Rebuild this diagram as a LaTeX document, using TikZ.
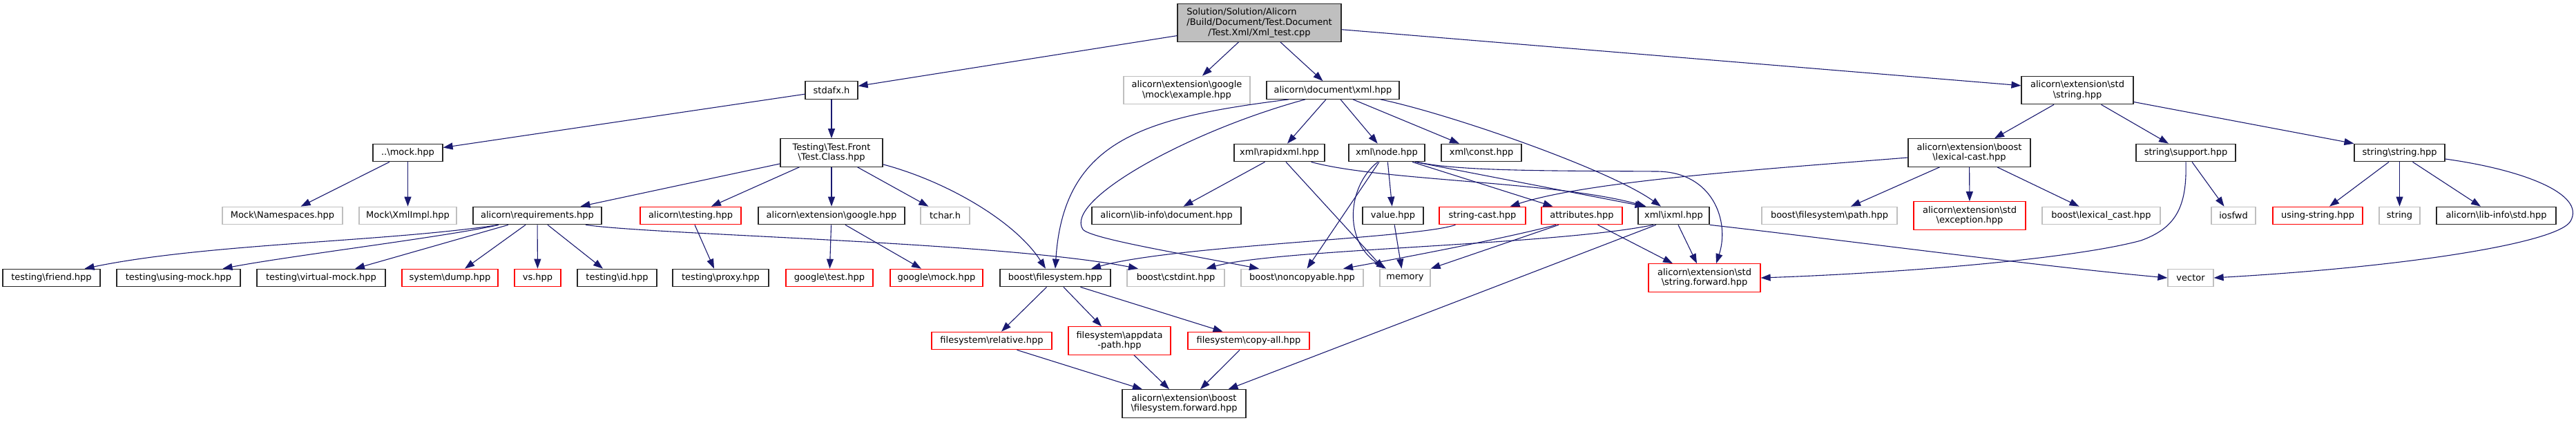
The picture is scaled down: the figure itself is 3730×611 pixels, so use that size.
\documentclass[tikz,border=0pt]{standalone}
\usepackage{fontspec}
\setmainfont{DejaVu Sans}
\usepackage{calc}
\usetikzlibrary{arrows.meta}
\definecolor{edgec}{HTML}{191970}
\definecolor{grayb}{HTML}{BFBFBF}
\definecolor{redb}{HTML}{FF0000}
\newcommand{\bsl}{\textbackslash}
\begin{document}
\begin{tikzpicture}[x=1pt,y=-1pt,
  box/.style={draw=black!85, line width=1.2pt, inner sep=0pt, minimum height=25.5pt, align=center,
    font=\fontsize{13pt}{14.8pt}\selectfont, text=black},
  two/.style={minimum height=40.5pt},
  redn/.style={draw=redb},
  grayn/.style={draw=grayb},
  e/.style={draw=edgec, line width=1.1pt, -{Triangle[length=14pt,width=10pt,fill=edgec]}}]
\useasboundingbox (0,0) rectangle (3730,611);
% row 1
\node[box, fill=grayb, minimum width=237pt, minimum height=54.5pt] (main) at (1823.5,33)
 {\makebox[\widthof{/Build/Document/Test.Document}][l]{Solution/Solution/Alicorn}\\/Build/Document/Test.Document\\/Test.Xml/Xml\_test.cpp};
% row 2
\node[box, minimum width=76pt] (stdafx) at (1204,130.5) {stdafx.h};
\node[box, grayn, two, minimum width=183pt] (example) at (1718.5,130.5) {alicorn\bsl extension\bsl google\\\bsl mock\bsl example.hpp};
\node[box, minimum width=192pt] (xmlhpp) at (1930,130.5) {alicorn\bsl document\bsl xml.hpp};
\node[box, two, minimum width=162pt] (stringhpp) at (3008,130.5) {alicorn\bsl extension\bsl std\\\bsl string.hpp};
% row 3
\node[box, minimum width=101pt] (mock) at (590.5,221) {..\bsl mock.hpp};
\node[box, two, minimum width=148pt] (testclass) at (1204,221) {Testing\bsl Test.Front\\\bsl Test.Class.hpp};
\node[box, minimum width=131pt] (rapidxml) at (1852.5,221) {xml\bsl rapidxml.hpp};
\node[box, minimum width=110pt] (node) at (2008,221) {xml\bsl node.hpp};
\node[box, minimum width=116pt] (const) at (2145,221) {xml\bsl const.hpp};
\node[box, two, minimum width=177pt] (lexcast) at (2851.5,221) {alicorn\bsl extension\bsl boost\\\bsl lexical-cast.hpp};
\node[box, minimum width=144pt] (support) at (3165,221) {string\bsl support.hpp};
\node[box, minimum width=131pt] (sstring) at (3474.5,221) {string\bsl string.hpp};
% row 4
\node[box, grayn, minimum width=174pt] (namespaces) at (409,312) {Mock\bsl Namespaces.hpp};
\node[box, grayn, minimum width=141pt] (xmlimpl) at (590.5,312) {Mock\bsl XmlImpl.hpp};
\node[box, minimum width=186pt] (requirements) at (778,312) {alicorn\bsl requirements.hpp};
\node[box, redn, minimum width=146pt] (atesting) at (1000,312) {alicorn\bsl testing.hpp};
\node[box, minimum width=212pt] (google) at (1204,312) {alicorn\bsl extension\bsl google.hpp};
\node[box, grayn, minimum width=71pt] (tchar) at (1368.5,312) {tchar.h};
\node[box, minimum width=216pt] (libdoc) at (1689,312) {alicorn\bsl lib-info\bsl document.hpp};
\node[box, minimum width=88pt] (value) at (2017,312) {value.hpp};
\node[box, redn, minimum width=125pt] (strcast) at (2146.5,312) {string-cast.hpp};
\node[box, redn, minimum width=117pt] (attributes) at (2290.5,312) {attributes.hpp};
\node[box, minimum width=103pt] (ixml) at (2423.5,312) {xml\bsl ixml.hpp};
\node[box, grayn, minimum width=196pt] (path) at (2649,312) {boost\bsl filesystem\bsl path.hpp};
\node[box, redn, two, minimum width=162pt] (exception) at (2852,312) {alicorn\bsl extension\bsl std\\\bsl exception.hpp};
\node[box, grayn, minimum width=171pt] (lexical) at (3042.5,312) {boost\bsl lexical\_cast.hpp};
\node[box, grayn, minimum width=64pt] (iosfwd) at (3234,312) {iosfwd};
\node[box, redn, minimum width=130pt] (usingstring) at (3356,312) {using-string.hpp};
\node[box, grayn, minimum width=59pt] (string) at (3474.5,312) {string};
\node[box, minimum width=173pt] (libstd) at (3614.5,312) {alicorn\bsl lib-info\bsl std.hpp};
% row 5
\node[box, minimum width=141pt] (friend) at (74.5,402) {testing\bsl friend.hpp};
\node[box, minimum width=179pt] (usingmock) at (258.5,402) {testing\bsl using-mock.hpp};
\node[box, minimum width=186pt] (virtualmock) at (465,402) {testing\bsl virtual-mock.hpp};
\node[box, redn, minimum width=139pt] (dump) at (651.5,402) {system\bsl dump.hpp};
\node[box, redn, minimum width=67pt] (vs) at (778.5,402) {vs.hpp};
\node[box, minimum width=115pt] (id) at (893.5,402) {testing\bsl id.hpp};
\node[box, minimum width=139pt] (proxy) at (1043.5,402) {testing\bsl proxy.hpp};
\node[box, redn, minimum width=126pt] (gtest) at (1201,402) {google\bsl test.hpp};
\node[box, redn, minimum width=134pt] (gmock) at (1356,402) {google\bsl mock.hpp};
\node[box, minimum width=160pt] (filesystem) at (1528,402) {boost\bsl filesystem.hpp};
\node[box, grayn, minimum width=141pt] (cstdint) at (1702.5,402) {boost\bsl cstdint.hpp};
\node[box, grayn, minimum width=177pt] (noncopyable) at (1885.5,402) {boost\bsl noncopyable.hpp};
\node[box, grayn, minimum width=73pt] (memory) at (2034.5,402) {memory};
\node[box, redn, two, minimum width=162pt] (strforward) at (2468,402) {alicorn\bsl extension\bsl std\\\bsl string.forward.hpp};
\node[box, grayn, minimum width=66pt] (vector) at (3172,402) {vector};
% row 6
\node[box, redn, minimum width=174pt] (relative) at (1436,493) {filesystem\bsl relative.hpp};
\node[box, redn, two, minimum width=148pt] (appdata) at (1621,493) {filesystem\bsl appdata\\-path.hpp};
\node[box, redn, minimum width=176pt] (copyall) at (1808,493) {filesystem\bsl copy-all.hpp};
% row 7
\node[box, two, minimum width=179pt] (fsforward) at (1714.5,584) {alicorn\bsl extension\bsl boost\\\bsl filesystem.forward.hpp};

% edges
\draw[e] (main) -- (stdafx);
\draw[e] (main) -- (example);
\draw[e] (main) -- (xmlhpp);
\draw[e] (main) -- (stringhpp);
\draw[e] (stdafx) -- (mock);
\draw[e] (stdafx) -- (testclass);
\draw[e] (mock) -- (namespaces);
\draw[e] (mock) -- (xmlimpl);
\draw[e] (testclass) -- (requirements);
\draw[e] (testclass) -- (atesting);
\draw[e] (testclass) -- (google);
\draw[e] (testclass) -- (tchar);
\draw[e] ([yshift=4pt]testclass.south east) .. controls (1370,262) and (1470,320) .. ([xshift=-14pt]filesystem.north);

\draw[e] ([xshift=-56pt]requirements.south) .. controls (560,350) and (300,352) .. ([xshift=48pt]friend.north);
\draw[e] ([xshift=-56pt]requirements.south) .. controls (650,342) and (420,370) .. ([xshift=64pt]usingmock.north);
\draw[e] ([xshift=-42pt]requirements.south) -- ([xshift=49pt]virtualmock.north);
\draw[e] ([xshift=-17pt]requirements.south) -- ([xshift=21.5pt]dump.north);
\draw[e] (requirements) -- (vs);
\draw[e] ([xshift=15pt]requirements.south) -- ([xshift=-20.5pt]id.north);
\draw[e] ([xshift=70pt]requirements.south) .. controls (950,340) and (1450,350) .. ([xshift=-54.5pt]cstdint.north);
\draw[e] ([xshift=6pt]atesting.south) -- ([xshift=-9.5pt]proxy.north);
\draw[e] (google) -- (gtest);
\draw[e] ([xshift=20pt]google.south) -- ([xshift=-22pt]gmock.north);

\draw[e] ([xshift=-64pt]xmlhpp.south) .. controls (1660,170) and (1540,200) .. (filesystem.north);
\draw[e] ([xshift=-40pt]xmlhpp.south) .. controls (1720,190) and (1540,290) .. (1568,332) .. controls (1580,345) and (1700,365) .. ([xshift=-62.5pt]noncopyable.north);
\draw[e] ([xshift=-10pt]xmlhpp.south) -- ([xshift=11.5pt]rapidxml.north);
\draw[e] ([xshift=11pt]xmlhpp.south) -- ([xshift=-13.3pt]node.north);
\draw[e] ([xshift=29pt]xmlhpp.south) -- ([xshift=-32pt]const.north);
\draw[e] ([xshift=69pt]xmlhpp.south) .. controls (2100,165) and (2330,245) .. ([xshift=-18.5pt]ixml.north);

\draw[e] ([xshift=-21pt]rapidxml.south) -- ([xshift=24.5pt]libdoc.north);
\draw[e] ([xshift=9.5pt]rapidxml.south) -- ([xshift=-31pt]memory.north);
\draw[e] ([xshift=46pt]rapidxml.south) .. controls (2000,262) and (2250,262) .. ([xshift=-40pt]ixml.north);

\draw[e] (node) -- (value);
\draw[e] ([xshift=-13pt]node.south) .. controls (1950,270) and (1945,350) .. ([xshift=-27.5pt]memory.north);
\draw[e] ([xshift=-11pt]node.south) -- ([xshift=7pt]noncopyable.north);
\draw[e] ([xshift=37pt]node.south) -- ([xshift=-42pt]attributes.north);
\draw[e] ([xshift=41pt]node.south) -- ([xshift=-42pt]ixml.north);
\draw[e] ([xshift=44pt]node.south) .. controls (2110,248) and (2250,247) .. (2400,248) .. controls (2480,249) and (2505,320) .. ([xshift=17pt]strforward.north);

\draw[e] (value) -- ([xshift=-5pt]memory.north);
\draw[e] ([xshift=-39pt]strcast.south) .. controls (2050,345) and (1700,355) .. ([xshift=52pt]filesystem.north);

\draw[e] ([xshift=-37.5pt]attributes.south) .. controls (2180,345) and (2020,375) .. ([xshift=59.5pt]noncopyable.north);
\draw[e] ([xshift=-33.5pt]attributes.south) -- (memory.north east);
\draw[e] ([xshift=23pt]attributes.south) -- ([xshift=-46pt]strforward.north);

\draw[e] ([xshift=-29.5pt]ixml.south) .. controls (2250,355) and (1850,360) .. ([xshift=44pt]cstdint.north);
\draw[e] ([xshift=-25.5pt]ixml.south) -- ([xshift=64pt]fsforward.north);
\draw[e] ([xshift=6.5pt]ixml.south) -- ([xshift=-11pt]strforward.north);
\draw[e] (ixml.south east) .. controls (2650,345) and (2950,385) .. (vector.west);

\draw[e] ([yshift=-7pt]lexcast.west) .. controls (2550,245) and (2300,262) .. ([xshift=40pt]strcast.north);
\draw[e] ([xshift=-43pt]lexcast.south) -- ([xshift=31pt]path.north);
\draw[e] (lexcast) -- (exception);
\draw[e] ([xshift=40.5pt]lexcast.south) -- ([xshift=-32pt]lexical.north);

\draw[e] ([xshift=-34pt]stringhpp.south) -- ([xshift=36.5pt]lexcast.north);
\draw[e] ([xshift=34.5pt]stringhpp.south) -- ([xshift=-25pt]support.north);
\draw[e] ([yshift=-17pt]stringhpp.east) -- (sstring.north west);

\draw[e] ([xshift=9pt]support.south) -- ([xshift=-13.5pt]iosfwd.north);
\draw[e] (support.south) .. controls (3167,300) and (3150,330) .. (3100,348) .. controls (3000,375) and (2750,395) .. (strforward.east);

\draw[e] ([xshift=-15.5pt]sstring.south) -- ([xshift=17pt]usingstring.north);
\draw[e] (sstring) -- (string);
\draw[e] ([xshift=19pt]sstring.south) -- ([xshift=-22.5pt]libstd.north);
\draw[e] ([yshift=-9pt]sstring.east) .. controls (3650,245) and (3745,280) .. (3722,320) .. controls (3705,350) and (3500,385) .. (vector.east);

\draw[e] ([xshift=-12.5pt]filesystem.south) -- ([xshift=14pt]relative.north);
\draw[e] ([xshift=12pt]filesystem.south) -- ([xshift=-26pt]appdata.north);
\draw[e] ([xshift=36.5pt]filesystem.south) -- ([xshift=-37.5pt]copyall.north);

\draw[e] ([xshift=36.5pt]relative.south) -- ([xshift=-60.5pt]fsforward.north);
\draw[e] ([xshift=21pt]appdata.south) -- ([xshift=-21.5pt]fsforward.north);
\draw[e] ([xshift=-13pt]copyall.south) -- ([xshift=23.5pt]fsforward.north);
\end{tikzpicture}
\end{document}
